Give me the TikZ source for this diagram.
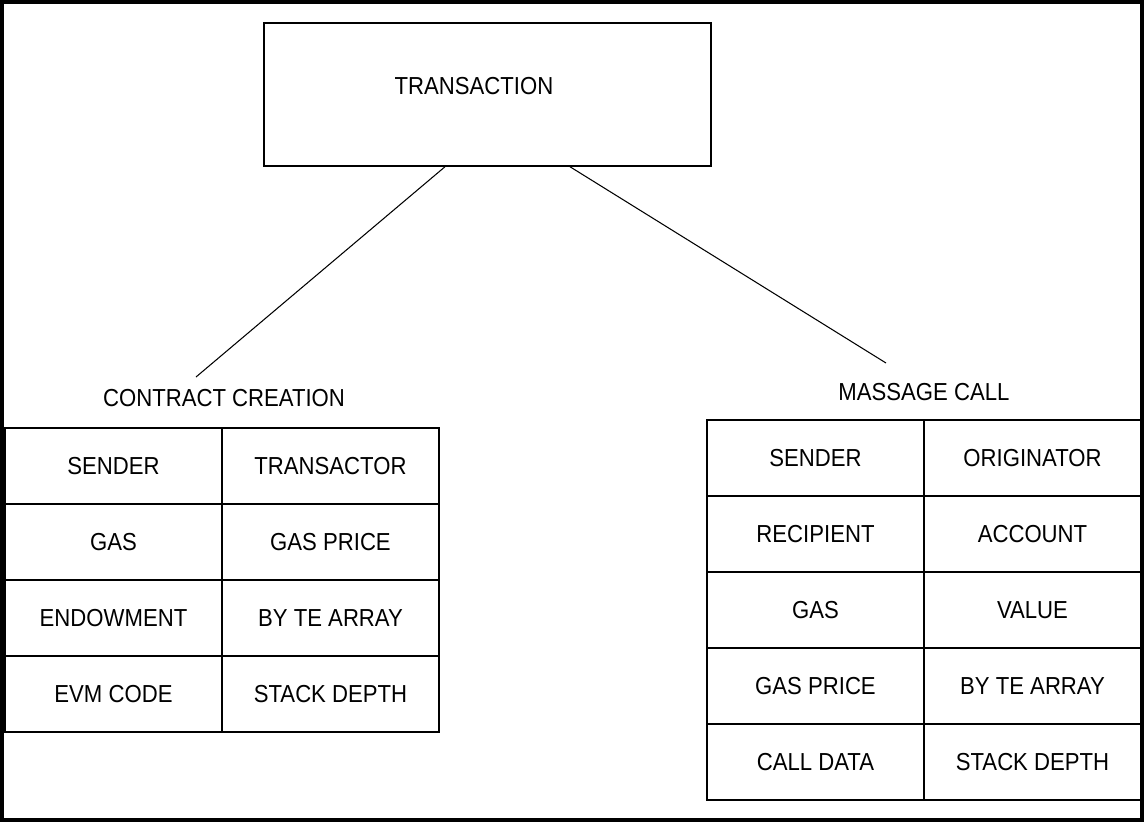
\documentclass[tikz,border=0pt]{standalone}
\usepackage{fontspec}
\setmainfont{Liberation Sans}[FakeStretch=0.9]
\begin{document}
\begin{tikzpicture}[x=0.02cm,y=-0.02cm,
  every node/.style={font=\fontsize{14}{16}\selectfont, inner sep=0pt},
  cell/.style={draw, line width=0.85pt, minimum width=4.34cm, minimum height=1.52cm},
  box/.style={draw, line width=0.85pt, minimum width=8.94cm, minimum height=2.86cm},
  conn/.style={line width=0.6pt},
  frame/.style={line width=1.9pt}]
\useasboundingbox (0,0) rectangle (1144,822);
\draw[frame] (2,2) rectangle (1142,820);

\node[box] (trans) at (487.5,94.5) {};
\node (translabel) at (474,86) {TRANSACTION};

\node (cc) at (224,398) {CONTRACT CREATION};
\node (mc) at (924,392) {MASSAGE CALL};
\coordinate (ccend) at (196,377);
\coordinate (mcend) at (886,363);
\draw[conn] ([xshift=-0.85cm]trans.south) -- (ccend);
\draw[conn] ([xshift=1.65cm]trans.south) -- (mcend);

% contract creation table
\node[cell] (c11) at (113.5,466) {SENDER};
\node[cell] (c12) at (330.5,466) {TRANSACTOR};
\node[cell] (c21) at (113.5,542) {GAS};
\node[cell] (c22) at (330.5,542) {GAS PRICE};
\node[cell] (c31) at (113.5,618) {ENDOWMENT};
\node[cell] (c32) at (330.5,618) {BY TE ARRAY};
\node[cell] (c41) at (113.5,694) {EVM CODE};
\node[cell] (c42) at (330.5,694) {STACK DEPTH};

% message call table
\node[cell] (m11) at (815.5,458) {SENDER};
\node[cell] (m12) at (1032.5,458) {ORIGINATOR};
\node[cell] (m21) at (815.5,534) {RECIPIENT};
\node[cell] (m22) at (1032.5,534) {ACCOUNT};
\node[cell] (m31) at (815.5,610) {GAS};
\node[cell] (m32) at (1032.5,610) {VALUE};
\node[cell] (m41) at (815.5,686) {GAS PRICE};
\node[cell] (m42) at (1032.5,686) {BY TE ARRAY};
\node[cell] (m51) at (815.5,762) {CALL DATA};
\node[cell] (m52) at (1032.5,762) {STACK DEPTH};
\end{tikzpicture}
\end{document}
